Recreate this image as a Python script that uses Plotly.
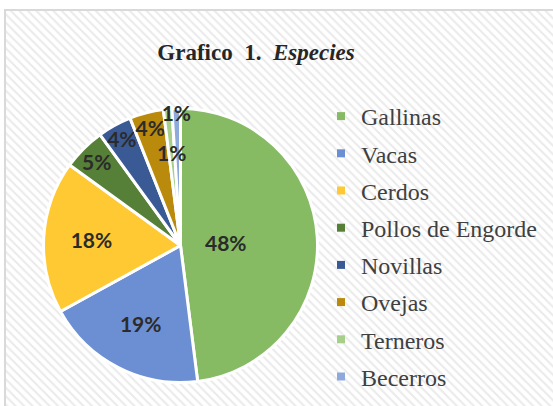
import math
import plotly.graph_objects as go

categories = ["Gallinas", "Vacas", "Cerdos", "Pollos de Engorde", "Novillas", "Ovejas", "Terneros", "Becerros"]
values = [48, 19, 18, 5, 4, 4, 1, 1]
colors = ["#86bb64", "#6b8fd2", "#ffc934", "#567f37", "#3a5a96", "#b98a0c", "#a6cf8a", "#8eaadc"]

W, H = 553, 406
CX, CY, R = 180.5, 160.5, 137  # pie centre (px from left / bottom) and radius
# labels that sit at a custom radius (fraction of pie radius) instead of plotly's default spot
label_radius = {"Gallinas": 0.33, "Terneros": 0.68}
label_font = dict(family="Lato", size=21, color="#2b2b2b", weight="bold")

fig = go.Figure()

# hatched chart-area background
fig.add_trace(go.Scatter(
    x=[5, 560, 560, 5, 5], y=[-10, -10, 396, 396, -10],
    mode="lines", fill="toself", line=dict(width=0),
    fillcolor="white",
    fillpattern=dict(shape="\\", fgcolor="#d6d6d6", bgcolor="white", size=6, solidity=0.35),
    hoverinfo="skip", showlegend=False,
))

# legend entries
for c, col in zip(categories, colors):
    fig.add_trace(go.Scatter(
        x=[None], y=[None], mode="markers", name=c, legendgroup=c,
        marker=dict(symbol="square", size=8, color=col),
    ))

total = sum(values)
pct = [f"{round(100 * v / total)}%" for v in values]
templates = ["" if c in label_radius else p for c, p in zip(categories, pct)]

fig.add_trace(go.Pie(
    labels=categories, values=values, sort=False, direction="clockwise", rotation=0,
    marker=dict(colors=colors, line=dict(color="white", width=3)),
    text=pct, texttemplate=templates, textposition="inside", insidetextorientation="horizontal",
    textfont=label_font,
    domain=dict(x=[(CX - R) / W, (CX + R) / W], y=[(CY - R) / H, (CY + R) / H]),
    showlegend=False, hoverinfo="label+percent",
))

annotations = []
cum = 0
for c, v, p in zip(categories, values, pct):
    mid = (cum + v / 2) / total * 2 * math.pi
    cum += v
    if c in label_radius:
        rr = label_radius[c] * R
        annotations.append(dict(
            x=CX + rr * math.sin(mid), y=CY + rr * math.cos(mid), xref="x", yref="y",
            text=p, showarrow=False, font=label_font,
        ))

fig.update_layout(
    width=W, height=H, autosize=False, margin=dict(l=0, r=0, t=0, b=0, autoexpand=False),
    paper_bgcolor="white", plot_bgcolor="rgba(0,0,0,0)",
    xaxis=dict(range=[0, W], domain=[0, 1], visible=False, fixedrange=True),
    yaxis=dict(range=[0, H], domain=[0, 1], visible=False, fixedrange=True),
    uniformtext=dict(minsize=21, mode="show"),
    title=dict(
        text="<b>Grafico\u00a0\u00a01.\u00a0\u00a0<i>Especies</i></b>",
        x=256 / W, xanchor="center", y=1 - 52 / H, yanchor="middle",
        font=dict(family="Liberation Serif", size=23, color="#262626"),
    ),
    legend=dict(
        x=321 / W, xanchor="left", y=1 - 94 / H, yanchor="top", maxheight=400,
        font=dict(family="Liberation Serif", size=24, color="#404040"),
        tracegroupgap=3, bgcolor="rgba(0,0,0,0)", itemclick=False,
    ),
    annotations=annotations,
    shapes=[dict(type="rect", xref="paper", yref="paper",
                 x0=5 / W, x1=1.05, y0=-0.05, y1=1 - 10 / H,
                 line=dict(color="#d9d9d9", width=2), fillcolor="rgba(0,0,0,0)", layer="above")],
)

fig.write_html(
    "out.html",
    config={"responsive": False, "displayModeBar": False},
    post_script="var d=document.getElementById('{plot_id}'); d.style.position='absolute'; d.style.left='0px'; d.style.top='0px';",
)
